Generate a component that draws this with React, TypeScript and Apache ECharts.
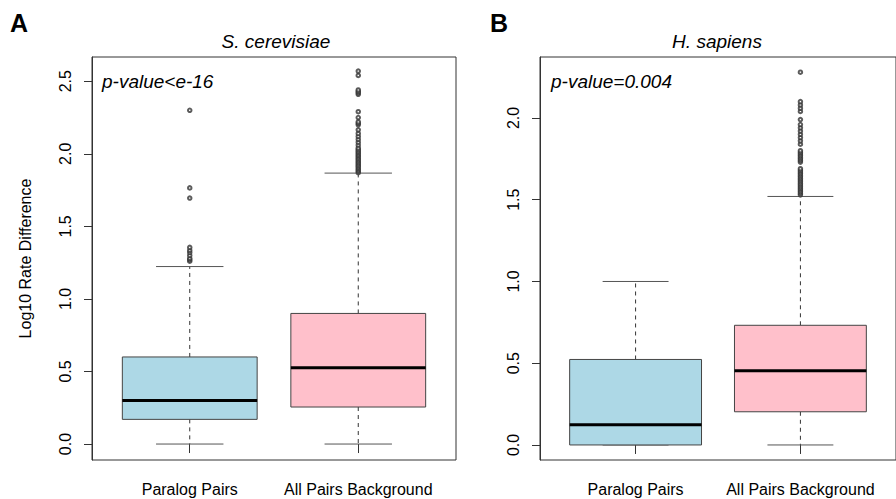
import React, { useEffect, useRef } from 'react';
import * as echarts from 'echarts';

const categories = ['Paralog Pairs', 'All Pairs Background'];
const boxColors = ['#ADD8E6', '#FFC0CB'];

// [low whisker, Q1, median, Q3, high whisker]
const scerBoxes = [
  [0, 0.17, 0.30, 0.60, 1.223],
  [0, 0.255, 0.526, 0.90, 1.867],
];
const hsapBoxes = [
  [0, 0, 0.123, 0.523, 1.0],
  [0, 0.203, 0.454, 0.732, 1.52],
];

const scerOutParalog = [1.26, 1.27, 1.28, 1.30, 1.32, 1.335, 1.355, 1.695, 1.765, 2.30];
const scerOutBackground = [
  1.87, 1.88, 1.89, 1.90, 1.91, 1.92, 1.93, 1.94, 1.95, 1.96, 1.97, 1.98, 1.99, 2.00,
  2.01, 2.02, 2.03, 2.04, 2.06, 2.08, 2.10, 2.12, 2.14, 2.165, 2.20, 2.21, 2.22, 2.25,
  2.29, 2.41, 2.42, 2.43, 2.44, 2.54, 2.57,
];
const hsapOutParalog: number[] = [];
const hsapOutBackground = [
  1.53, 1.54, 1.55, 1.56, 1.57, 1.58, 1.59, 1.60, 1.61, 1.62, 1.63, 1.64, 1.65, 1.66,
  1.67, 1.68, 1.69, 1.73, 1.74, 1.75, 1.76, 1.77, 1.78, 1.79, 1.80, 1.84, 1.86, 1.88,
  1.90, 1.92, 1.94, 1.96, 1.99, 2.04, 2.06, 2.08, 2.10, 2.28,
];

const yTicksS = [0, 0.5, 1, 1.5, 2, 2.5];
const yTicksH = [0, 0.5, 1, 1.5, 2];
const xTicks = [1, 2];

const FONT = 'Liberation Sans, Arial, sans-serif';

function renderBox(params: any, api: any) {
  const x = api.value(0);
  const low = api.value(1);
  const q1 = api.value(2);
  const med = api.value(3);
  const q3 = api.value(4);
  const high = api.value(5);
  const half = 0.4;
  const capHalf = 0.2;
  const [xl, yq3] = api.coord([x - half, q3]);
  const [xr, yq1] = api.coord([x + half, q1]);
  const [cx, ymed] = api.coord([x, med]);
  const yhigh = api.coord([x, high])[1];
  const ylow = api.coord([x, low])[1];
  const cl = api.coord([x - capHalf, 0])[0];
  const cr = api.coord([x + capHalf, 0])[0];
  const whisker = { stroke: '#333', lineWidth: 1, lineDash: [4, 4] };
  const cap = { stroke: '#555', lineWidth: 1 };
  return {
    type: 'group',
    children: [
      { type: 'line', shape: { x1: cx, y1: yq3, x2: cx, y2: yhigh }, style: whisker },
      { type: 'line', shape: { x1: cx, y1: yq1, x2: cx, y2: ylow }, style: whisker },
      { type: 'line', shape: { x1: cl, y1: yhigh, x2: cr, y2: yhigh }, style: cap },
      { type: 'line', shape: { x1: cl, y1: ylow, x2: cr, y2: ylow }, style: cap },
      {
        type: 'rect',
        shape: { x: xl, y: yq3, width: xr - xl, height: yq1 - yq3 },
        style: { fill: boxColors[params.dataIndex], stroke: '#444', lineWidth: 1 },
      },
      { type: 'line', shape: { x1: xl, y1: ymed, x2: xr, y2: ymed }, style: { stroke: '#000', lineWidth: 3 } },
    ],
  };
}

function makeX(gridIndex: number) {
  return {
    gridIndex,
    type: 'value',
    min: 0.42,
    max: 2.58,
    splitLine: { show: false },
    axisLine: { show: false },
    axisTick: { show: true, customValues: xTicks, length: 9, lineStyle: { color: '#333' } },
    axisLabel: {
      customValues: xTicks,
      formatter: (v: number) => categories[Math.round(v) - 1] || '',
      margin: 21,
      fontSize: 16,
      color: '#000',
      fontFamily: FONT,
    },
  };
}

function makeY(gridIndex: number, min: number, max: number, ticks: number[], name: string) {
  return {
    gridIndex,
    type: 'value',
    min,
    max,
    splitLine: { show: false },
    axisLine: { show: true, lineStyle: { color: '#333' } },
    axisTick: { show: true, customValues: ticks, length: 8, lineStyle: { color: '#333' } },
    axisLabel: {
      customValues: ticks,
      rotate: 90,
      formatter: (v: number) => v.toFixed(1),
      margin: 19,
      fontSize: 16,
      color: '#000',
      fontFamily: FONT,
    },
    name,
    nameLocation: 'middle',
    nameRotate: 90,
    nameGap: 59,
    nameTextStyle: { fontSize: 16, color: '#000', fontFamily: FONT },
  };
}

function outlierData(vals: number[], x: number) {
  return vals.map((v) => [x, v]);
}

export default function App() {
  const ref = useRef<HTMLDivElement>(null);
  useEffect(() => {
    if (!ref.current) return;
    const chart = echarts.init(ref.current, null, { renderer: 'svg' });
    const scatterStyle = {
      type: 'scatter',
      symbol: 'emptyCircle',
      symbolSize: 3.5,
      itemStyle: { color: '#333', borderColor: '#333', borderWidth: 0.9 },
      silent: true,
    };
    chart.setOption({
      animation: false,
      backgroundColor: '#fff',
      grid: [
        { left: 92, top: 57, width: 364, height: 403, show: true, borderColor: '#333', borderWidth: 1, backgroundColor: 'transparent' },
        { left: 540, top: 57, width: 364, height: 403, show: true, borderColor: '#333', borderWidth: 1, backgroundColor: 'transparent' },
      ],
      xAxis: [makeX(0), makeX(1)],
      yAxis: [
        makeY(0, -0.11, 2.667, yTicksS, 'Log10 Rate Difference'),
        makeY(1, -0.092, 2.373, yTicksH, ''),
      ],
      series: [
        {
          type: 'custom',
          xAxisIndex: 0,
          yAxisIndex: 0,
          renderItem: renderBox,
          encode: { x: 0, y: [1, 2, 3, 4, 5] },
          data: scerBoxes.map((b, i) => [i + 1, ...b]),
          silent: true,
        },
        {
          type: 'custom',
          xAxisIndex: 1,
          yAxisIndex: 1,
          renderItem: renderBox,
          encode: { x: 0, y: [1, 2, 3, 4, 5] },
          data: hsapBoxes.map((b, i) => [i + 1, ...b]),
          silent: true,
        },
        { ...scatterStyle, xAxisIndex: 0, yAxisIndex: 0, data: outlierData(scerOutParalog, 1) },
        { ...scatterStyle, xAxisIndex: 0, yAxisIndex: 0, data: outlierData(scerOutBackground, 2) },
        { ...scatterStyle, xAxisIndex: 1, yAxisIndex: 1, data: outlierData(hsapOutParalog, 1) },
        { ...scatterStyle, xAxisIndex: 1, yAxisIndex: 1, data: outlierData(hsapOutBackground, 2) },
      ],
      graphic: [
        { type: 'text', x: 10, y: 23, style: { text: 'A', font: `bold 25px ${FONT}`, fill: '#000', verticalAlign: 'middle', align: 'left' } },
        { type: 'text', x: 490, y: 23, style: { text: 'B', font: `bold 25px ${FONT}`, fill: '#000', verticalAlign: 'middle', align: 'left' } },
        { type: 'text', x: 276, y: 41, style: { text: 'S. cerevisiae', font: `italic 19px ${FONT}`, fill: '#000', verticalAlign: 'middle', align: 'center' } },
        { type: 'text', x: 717, y: 41, style: { text: 'H. sapiens', font: `italic 19px ${FONT}`, fill: '#000', verticalAlign: 'middle', align: 'center' } },
        { type: 'text', x: 102, y: 81, style: { text: 'p-value<e-16', font: `italic 19px ${FONT}`, fill: '#000', verticalAlign: 'middle', align: 'left' } },
        { type: 'text', x: 551, y: 81, style: { text: 'p-value=0.004', font: `italic 19px ${FONT}`, fill: '#000', verticalAlign: 'middle', align: 'left' } },
      ],
    });
    return () => chart.dispose();
  }, []);
  return <div ref={ref} style={{ width: 896, height: 499, position: 'absolute', left: 0, top: 0 }} />;
}
